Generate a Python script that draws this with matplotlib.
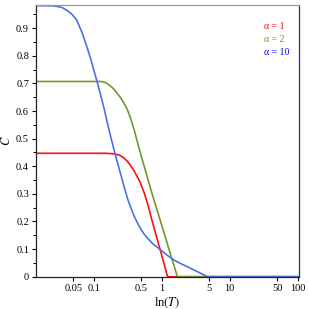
import numpy as np
import matplotlib.pyplot as plt
from matplotlib.ticker import FixedLocator, FixedFormatter, MultipleLocator, NullLocator

plt.rcParams['font.family'] = ['Liberation Serif', 'DejaVu Serif']
plt.rcParams['mathtext.fontset'] = 'stix'

# alpha = 1
t_red = [0.0141, 0.15, 0.199, 0.24, 0.279, 0.32, 0.39, 0.48, 0.55, 0.62, 0.7, 0.8, 1.0, 1.22, 105]
c_red = [0.447, 0.447, 0.445, 0.440, 0.430, 0.415, 0.385, 0.343, 0.305, 0.265, 0.215, 0.163, 0.078, 0.0, 0.0]

# alpha = 2
t_green = [0.0141, 0.127, 0.15, 0.178, 0.20, 0.22, 0.25, 0.279, 0.31, 0.35, 0.39, 0.45, 0.52,
           0.6, 0.69, 0.77, 0.9, 1.0, 1.3, 1.70, 105]
c_green = [0.707, 0.707, 0.703, 0.690, 0.678, 0.665, 0.647, 0.628, 0.607, 0.572, 0.535, 0.478, 0.422,
           0.37, 0.317, 0.278, 0.224, 0.187, 0.094, 0.0, 0.0]

# alpha = 10
t_blue = [0.0141, 0.025, 0.0286, 0.034, 0.040, 0.048, 0.056, 0.067, 0.079, 0.09, 0.105,
          0.113, 0.14, 0.17, 0.211, 0.25, 0.28, 0.32, 0.36, 0.40, 0.45, 0.49, 0.55, 0.6,
          0.75, 0.967, 1.2, 1.52, 2.0, 2.5, 3.0, 3.5, 4.0, 4.7, 105]
c_blue = [0.982, 0.981, 0.979, 0.975, 0.965, 0.950, 0.930, 0.885, 0.833, 0.79, 0.73,
          0.703, 0.615, 0.525, 0.435, 0.37, 0.325, 0.277, 0.243, 0.215, 0.19, 0.173, 0.155, 0.143,
          0.118, 0.097, 0.078, 0.060, 0.045, 0.034, 0.024, 0.016, 0.009, 0.0, 0.0]

xticks = [0.05, 0.1, 0.5, 1, 5, 10, 50, 100]
xlabels = ['0.05', '0.1', '0.5', '1', '5', '10', '50', '100']
legend = [('α = 1', '#ff0000'), ('α = 2', '#8f8f00'), ('α = 10', '#0000ff')]

fig = plt.figure(figsize=(3.09, 3.09), dpi=100)
ax = fig.add_axes([0.1165, 0.1045, 0.851, 0.8793])

ax.plot(t_red, c_red, color='#ff1010', lw=1.2)
ax.plot(t_green, c_green, color='#6f9a2e', lw=1.2)
ax.plot(t_blue, c_blue, color='#4a72e6', lw=1.2)

ax.set_xscale('log')
ax.set_xlim(0.0141, 105)
ax.set_ylim(0, 0.984)

ax.xaxis.set_major_locator(FixedLocator(xticks))
ax.xaxis.set_major_formatter(FixedFormatter(xlabels))
ax.xaxis.set_minor_locator(NullLocator())
ax.yaxis.set_major_locator(MultipleLocator(0.1))
ax.yaxis.set_minor_locator(MultipleLocator(0.05))
ax.yaxis.set_major_formatter(plt.FuncFormatter(lambda v, p: '0' if v == 0 else f'{v:.1f}'))

ax.tick_params(which='major', direction='out', length=3, width=0.8, labelsize=7.5, pad=2)
ax.tick_params(which='minor', direction='out', length=2, width=0.7)

ax.spines['left'].set_color('#222222')
ax.spines['bottom'].set_color('#222222')
ax.spines['top'].set_color('#999999')
ax.spines['right'].set_color('#333333')
for s in ax.spines.values():
    s.set_linewidth(0.9)

ax.set_xlabel(r'ln$(T)$', fontsize=9, labelpad=2)
ax.set_ylabel(r'$C$', fontsize=9, labelpad=2)

for i, (txt, col) in enumerate(legend):
    ax.text(0.868, 0.922 - i * 0.048, txt, color=col, fontsize=7, transform=ax.transAxes,
            va='center', ha='left')

fig.savefig('out.png', dpi=100)
